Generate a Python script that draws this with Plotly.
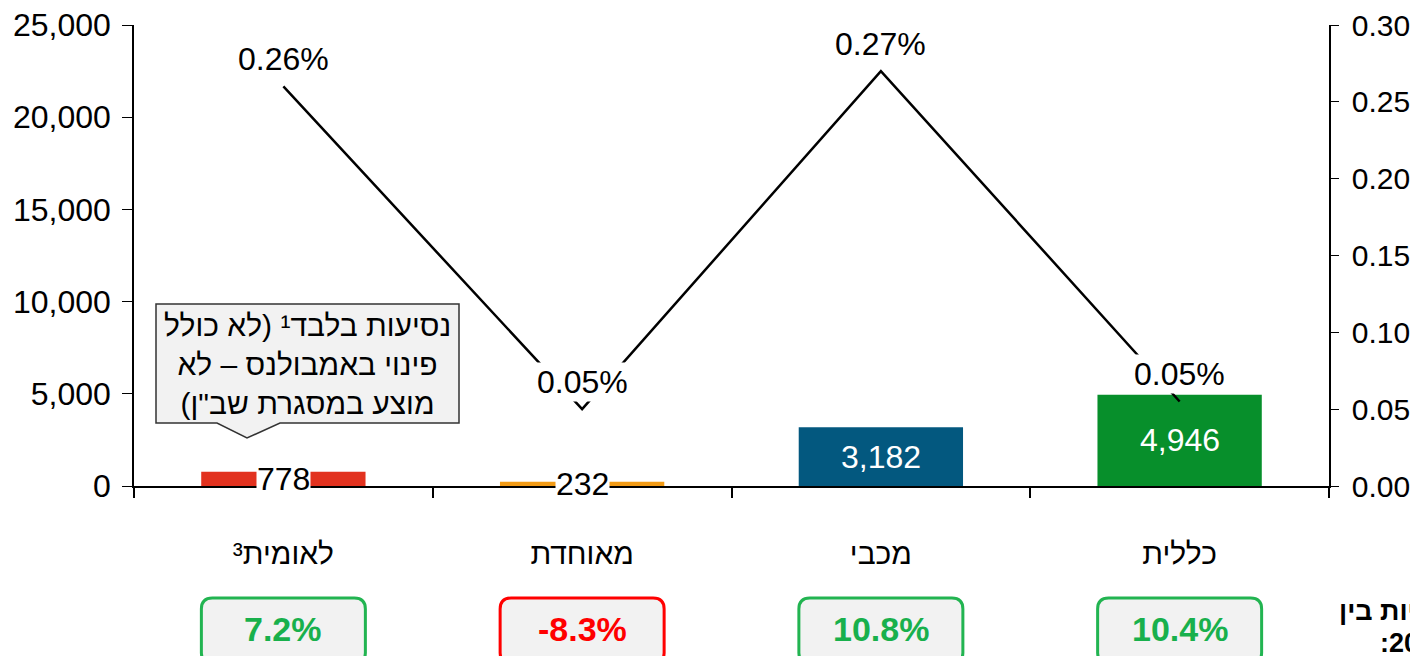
import plotly.graph_objects as go

# ---------------- data ----------------
categories = ["לאומית³", "מאוחדת", "מכבי", "כללית"]
trips = [778, 232, 3182, 4946]
trip_labels = ["778", "232", "3,182", "4,946"]
rate_pct = [0.26, 0.05, 0.27, 0.055]
rate_labels = ["0.26%", "0.05%", "0.27%", "0.05%"]
change_values = [7.2, -8.3, 10.8, 10.4]
change_labels = ["7.2%", "-8.3%", "10.8%", "10.4%"]
bar_colors = ["#e2321f", "#f29b16", "#03587f", "#078f2b"]
left_ticks = [0, 5000, 10000, 15000, 20000, 25000]
right_ticks = [0.00, 0.05, 0.10, 0.15, 0.20, 0.25, 0.30]
callout_text = "נסיעות בלבד¹ (לא כולל<br>פינוי באמבולנס – לא<br>מוצע במסגרת שב\"ן)\u200f"
side_line1 = "שינוי בכמויות בין"
side_line2 = ":2017-2018"

FONT = "Liberation Sans, Arial, sans-serif"
OFF = 8  # page body margin
W, H = 1418, 656
ML, MT = 134 - OFF, 25 - OFF
MR = W - (1329 - OFF)
MB = H - (486 - OFF)
PW, PH = W - ML - MR, H - MT - MB


def px(x):
    """screenshot pixel x -> paper x"""
    return (x - OFF - ML) / PW


def py(y):
    """screenshot pixel y -> paper y"""
    return (H - MB - (y - OFF)) / PH


fig = go.Figure()
fig.add_trace(go.Bar(x=categories, y=trips, marker=dict(color=bar_colors, line=dict(width=0)),
                     width=0.55, yaxis="y", hoverinfo="skip"))
fig.add_trace(go.Scatter(x=categories, y=rate_pct, yaxis="y2", mode="lines",
                         line=dict(color="black", width=2.5), hoverinfo="skip"))

annotations = []
shapes = []

# bar value labels
for i, (c, v, t) in enumerate(zip(categories, trips, trip_labels)):
    small = v < 1500
    annotations.append(dict(x=c, y=v / 2, xref="x", yref="y", text=t, showarrow=False,
                            xanchor="center", yanchor="middle",
                            font=dict(family=FONT, size=32, color="black" if small else "white"),
                            bgcolor="white" if small else "rgba(0,0,0,0)", borderpad=0))

# line value labels
for c, v, t in zip(categories, rate_pct, rate_labels):
    annotations.append(dict(x=c, y=v, xref="x", yref="y2", text=t, showarrow=False, yshift=27,
                            xanchor="center", yanchor="middle",
                            font=dict(family=FONT, size=32, color="black"),
                            bgcolor="white", borderpad=1))

# change boxes (rounded)
box_half_w = 82 / PW
box_top, box_bot = py(598), py(664)
rx, ry = 11 / PW, 11 / PH
for i, (c, v, t) in enumerate(zip(categories, change_values, change_labels)):
    col = "#22b451" if v >= 0 else "#ff0000"
    tcol = "#18b04c" if v >= 0 else "#ff0000"
    xc = (i + 0.5) / len(categories)
    x0, x1 = xc - box_half_w, xc + box_half_w
    path = (f"M {x0+rx},{box_top} L {x1-rx},{box_top} Q {x1},{box_top} {x1},{box_top-ry} "
            f"L {x1},{box_bot+ry} Q {x1},{box_bot} {x1-rx},{box_bot} "
            f"L {x0+rx},{box_bot} Q {x0},{box_bot} {x0},{box_bot+ry} "
            f"L {x0},{box_top-ry} Q {x0},{box_top} {x0+rx},{box_top} Z")
    shapes.append(dict(type="path", path=path, xref="paper", yref="paper",
                       line=dict(color=col, width=3), fillcolor="#f2f2f2", layer="above"))
    annotations.append(dict(x=c, y=py(629), xref="x", yref="paper", text=f"<b>{t}</b>",
                            xanchor="center", yanchor="middle",
                            showarrow=False, font=dict(family=FONT, size=34, color=tcol)))

# callout
pts = [(156, 304), (459, 304), (459, 423), (280, 423), (247, 438), (217, 423), (156, 423)]
cpath = "M " + " L ".join(f"{px(a)},{py(b)}" for a, b in pts) + " Z"
shapes.append(dict(type="path", path=cpath, xref="paper", yref="paper",
                   line=dict(color="#333333", width=1.5), fillcolor="#f2f2f2", layer="above"))
annotations.append(dict(x=px(307.5), y=py(364), xref="paper", yref="paper", text=callout_text,
                        showarrow=False, align="center", xanchor="center", yanchor="middle",
                        font=dict(family=FONT, size=30, color="black")))

# side text (cut off at right edge, as in the reference)
annotations.append(dict(x=px(1337), y=py(611), xref="paper", yref="paper", text=f"<b>{side_line1}</b>",
                        showarrow=False, xanchor="left", yanchor="middle",
                        font=dict(family=FONT, size=27, color="black")))
annotations.append(dict(x=px(1378), y=py(643), xref="paper", yref="paper", text=f"<b>{side_line2}</b>",
                        showarrow=False, xanchor="left", yanchor="middle",
                        font=dict(family=FONT, size=27, color="black")))

fig.update_layout(
    width=W, height=H,
    margin=dict(l=ML, r=MR, t=MT, b=MB, pad=0, autoexpand=False),
    paper_bgcolor="white", plot_bgcolor="white",
    showlegend=False, bargap=0.45,
    font=dict(family=FONT, size=30, color="black"),
    xaxis=dict(type="category", categoryorder="array", categoryarray=categories,
               range=[-0.5, 3.5], showline=True, linecolor="black", linewidth=2,
               ticks="outside", tickson="boundaries", ticklen=10, tickcolor="black", tickwidth=1.5,
               showgrid=False, zeroline=False, tickfont=dict(size=30), ticklabelstandoff=40,
               automargin=False),
    yaxis=dict(range=[0, 25000], tickvals=left_ticks, tickformat=",", showline=True,
               linecolor="black", linewidth=1.5, ticks="outside", ticklen=10, tickcolor="black",
               showgrid=False, zeroline=False, tickfont=dict(size=32), ticklabelstandoff=5,
               ticklabeloverflow="allow", automargin=False),
    yaxis2=dict(range=[0, 0.30], tickvals=right_ticks, tickformat=".2f", overlaying="y",
                side="right", showline=True, linecolor="black", linewidth=1.5, ticks="outside",
                ticklen=8, tickcolor="black", showgrid=False, zeroline=False,
                tickfont=dict(size=30), ticklabelstandoff=7, ticklabeloverflow="allow",
                automargin=False),
    annotations=annotations, shapes=shapes,
)

fig.write_html("out.html")
